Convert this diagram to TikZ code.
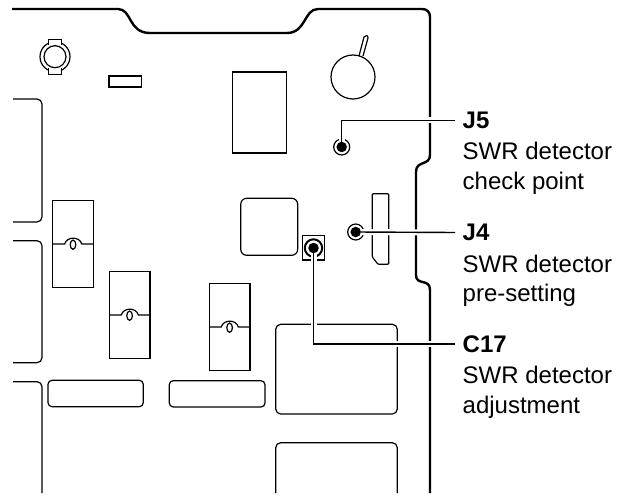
\documentclass[tikz,border=0pt]{standalone}
\usepackage{fontspec}
\setmainfont{Liberation Sans}
\usetikzlibrary{positioning}
\tikzset{
  board/.style={line width=2.4pt},
  part/.style={line width=1.2pt},
  lead/.style={line width=1.4pt, preaction={draw=white, line width=6pt}},
  probe/.style={circle, fill=black, inner sep=0pt, minimum size=10.5pt},
  tag/.style={anchor=west, inner xsep=7.5pt, inner ysep=0pt, font=\fontsize{24}{29.5}\selectfont\bfseries},
  note/.style={anchor=north west, align=left, inner xsep=7.5pt, inner ysep=0pt, font=\fontsize{24}{29.5}\selectfont},
}
\begin{document}
\begin{tikzpicture}[x=1pt, y=-1pt]
  \useasboundingbox (0,0) rectangle (631,497);
  % board edge
  \draw[board] (12,9)--(118,9) .. controls (132,9) and (128,33) .. (150,33)--(287,33)
    .. controls (306,33) and (304,9) .. (318,9)--(422,9)
    .. controls (427,9) and (430,12) .. (430,17)--(430,155)
    .. controls (430,166) and (416,160) .. (416,172)--(416,275)
    .. controls (416,286) and (430,278) .. (430,290)--(430,493);
  % left side blocks
  \draw[part, rounded corners=5pt] (13,99)--(42,99)--(42,222)--(13,222);
  \draw[part, rounded corners=5pt] (13,240.7)--(42,240.7)--(42,362.7)--(13,362.7);
  \draw[part, rounded corners=5pt] (13,381.7)--(42,381.7)--(42,493);
  % mounting hole
  \draw[part] (55,56.7) circle[radius=15];
  \fill[white] (49,39) rectangle (61,47);
  \fill[white] (49,67) rectangle (61,75);
  \draw[part] (55,56.7) circle[radius=11];
  \draw[part] (48.3,45)--(48.3,39.5)--(61.7,39.5)--(61.7,45);
  \draw[part] (48.3,68.5)--(48.3,74.7)--(61.7,74.7)--(61.7,68.5);
  \draw[part] (109,76) rectangle (141.7,87);
  % parts at the top
  \draw[part] (232.7,72) rectangle (286.7,153);
  \draw[part] (353,77) circle[radius=22];
  \draw[part] (359,56)--(364,37) .. controls (365,35) and (368.5,35) .. (368,38)--(363,56);
  % coils
  \foreach \x/\y in {52.7/200.7, 109.3/271.7, 209.3/283.7}{
    \draw[part] (\x,\y) rectangle ({\x+40.7},{\y+86.6});
    \draw[part] (\x,{\y+43.3})--({\x+12},{\y+43.3})
      .. controls ({\x+14},{\y+35.5}) and ({\x+27},{\y+35.5}) .. ({\x+29},{\y+43.3})--({\x+40.7},{\y+43.3});
    \draw[part] ({\x+20.3},{\y+44}) ellipse[x radius=2.8, y radius=4.6];
  }
  % lower blocks
  \draw[part, rounded corners=4pt] (48,380.3) rectangle (143.3,406.7);
  \draw[part, rounded corners=4pt] (169.3,380.7) rectangle (265,407);
  \draw[part, rounded corners=6pt] (240.7,198.3) rectangle (297.7,255.3);
  \draw[part, rounded corners=1pt] (372.3,193.7)--(388.7,193.7)--(388.7,264.3)--(378,264.3)--(372.3,257)--cycle;
  \draw[part, rounded corners=5pt] (275.7,324.3) rectangle (397.3,414);
  \draw[part, rounded corners=5pt] (275.7,493)--(275.7,442.7)--(397.3,442.7)--(397.3,493);
  % C17 holder
  \draw[part] (302.7,235.7) rectangle (324.7,260);
  \draw[line width=2pt] (313.5,248) circle[radius=8.7];
  \draw[part] (341.7,147) circle[radius=8];
  \draw[part] (355.7,232) circle[radius=8];
  % check points and labels
  \node[probe] (J5pt) at (341.7,147) {};
  \node[probe] (J4pt) at (355.7,232) {};
  \node[probe] (C17pt) at (313.5,248) {};
  \node[tag] (J5lbl) at (455,120.3) {J5};
  \node[tag] (J4lbl) at (455,232.6) {J4};
  \node[tag] (C17lbl) at (455,344.2) {C17};
  \node[note, below=13.5pt of J5lbl.south west, anchor=north west] (J5txt) {SWR detector\\check point};
  \node[note, below=13.5pt of J4lbl.south west, anchor=north west] (J4txt) {SWR detector\\pre-setting};
  \node[note, below=13.5pt of C17lbl.south west, anchor=north west] (C17txt) {SWR detector\\adjustment};
  \draw[lead] (J5pt) |- (J5lbl);
  \draw[lead] (J4pt) -- (J4lbl);
  \draw[lead, line width=1.8pt] (C17pt) |- (C17lbl);
\end{tikzpicture}
\end{document}
